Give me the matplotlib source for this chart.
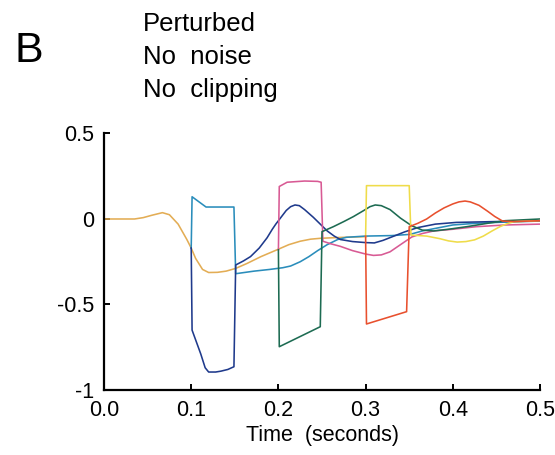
import numpy as np
from matplotlib import pyplot as plt

plt.rcParams['font.family'] = ['Liberation Sans', 'DejaVu Sans']

# traces (time in s, value)
orange_t = [0, 0.035, 0.045, 0.055, 0.067, 0.075, 0.085, 0.095, 0.1, 0.105, 0.113, 0.12, 0.13, 0.14, 0.151,
            0.164, 0.18, 0.198, 0.212, 0.225, 0.237, 0.248, 0.27, 0.301]
orange_y = [0, 0, 0.008, 0.022, 0.037, 0.025, -0.03, -0.12, -0.17, -0.23, -0.295, -0.313, -0.312, -0.305, -0.289,
            -0.26, -0.22, -0.181, -0.15, -0.13, -0.118, -0.113, -0.108, -0.103]

teal_t = [0.1, 0.101, 0.117, 0.149, 0.151, 0.172, 0.19, 0.205, 0.214, 0.225, 0.235, 0.245, 0.256, 0.268, 0.278,
          0.3, 0.33, 0.351, 0.365, 0.38, 0.4, 0.427, 0.46, 0.5]
teal_y = [-0.17, 0.13, 0.07, 0.07, -0.32, -0.305, -0.295, -0.285, -0.275, -0.25, -0.22, -0.185, -0.15, -0.12, -0.107,
          -0.1, -0.097, -0.09, -0.07, -0.055, -0.035, -0.025, -0.018, -0.012]

navy_t = [0.1, 0.101, 0.106, 0.111, 0.116, 0.12, 0.128, 0.134, 0.142, 0.149, 0.151, 0.16, 0.168, 0.178, 0.187,
          0.193, 0.197, 0.203, 0.209, 0.214, 0.219, 0.224, 0.23, 0.24, 0.25, 0.256, 0.264, 0.271, 0.285, 0.3,
          0.31, 0.32, 0.33, 0.345, 0.36, 0.38, 0.404, 0.45, 0.5]
navy_y = [-0.17, -0.65, -0.72, -0.79, -0.87, -0.895, -0.895, -0.89, -0.88, -0.864, -0.269, -0.245, -0.22, -0.17, -0.11,
          -0.06, -0.03, 0.01, 0.05, 0.072, 0.082, 0.078, 0.055, 0.01, -0.04, -0.07, -0.1, -0.12, -0.132, -0.138,
          -0.14, -0.125, -0.105, -0.075, -0.05, -0.03, -0.02, -0.015, -0.012]

pink_t = [0.2, 0.201, 0.21, 0.23, 0.245, 0.249, 0.251, 0.26, 0.271, 0.285, 0.3, 0.309, 0.318, 0.328, 0.34,
          0.353, 0.365, 0.378, 0.4, 0.427, 0.46, 0.5]
pink_y = [-0.18, 0.19, 0.215, 0.222, 0.22, 0.215, -0.13, -0.145, -0.16, -0.185, -0.205, -0.213, -0.21, -0.192, -0.15,
          -0.105, -0.085, -0.07, -0.06, -0.045, -0.035, -0.03]

green_t = [0.2, 0.201, 0.248, 0.25, 0.263, 0.275, 0.286, 0.298, 0.305, 0.311, 0.318, 0.328, 0.34, 0.353, 0.365,
           0.378, 0.395, 0.416, 0.44, 0.46, 0.5]
green_y = [-0.18, -0.747, -0.63, -0.074, -0.045, -0.015, 0.014, 0.05, 0.072, 0.082, 0.078, 0.055, 0.005, -0.04, -0.065,
           -0.07, -0.06, -0.045, -0.025, -0.01, 0.0]

yellow_t = [0.3, 0.301, 0.35, 0.352, 0.37, 0.385, 0.395, 0.405, 0.415, 0.425, 0.435, 0.445, 0.454, 0.462, 0.47, 0.5]
yellow_y = [-0.1, 0.195, 0.195, -0.094, -0.1, -0.115, -0.128, -0.135, -0.132, -0.122, -0.1, -0.07, -0.045, -0.028, -0.016, -0.01]

red_t = [0.3, 0.301, 0.347, 0.35, 0.36, 0.37, 0.38, 0.39, 0.4, 0.407, 0.414, 0.42, 0.43, 0.44, 0.448, 0.457, 0.47, 0.5]
red_y = [-0.1, -0.614, -0.542, -0.045, -0.025, 0.0, 0.035, 0.065, 0.088, 0.1, 0.105, 0.1, 0.08, 0.045, 0.015, -0.012, -0.015, -0.01]

xticks = [0.0, 0.1, 0.2, 0.3, 0.4, 0.5]
xlabels = ['0.0', '0.1', '0.2', '0.3', '0.4', '0.5']
yticks = [0.5, 0, -0.5, -1]
ylabels = ['0.5', '0', '-0.5', '-1']

fig = plt.figure(figsize=(5.55, 4.55), dpi=100)
ax = fig.add_axes([0.1874, 0.1429, 0.7856, 0.5637])

lw = 1.15
ax.plot(orange_t, orange_y, color='#e3ad55', lw=lw)
ax.plot(teal_t, teal_y, color='#2a8dbb', lw=lw)
ax.plot(navy_t, navy_y, color='#1f3a8c', lw=lw)
ax.plot(pink_t, pink_y, color='#d85a94', lw=lw)
ax.plot(green_t, green_y, color='#1d6b52', lw=lw)
ax.plot(yellow_t, yellow_y, color='#efdc4a', lw=lw)
ax.plot(red_t, red_y, color='#e8502e', lw=lw)

ax.set_xlim(0, 0.5)
ax.set_ylim(-1, 0.5)
for s in ['top', 'right']:
    ax.spines[s].set_visible(False)
for s in ['left', 'bottom']:
    ax.spines[s].set_linewidth(1.6)
ax.set_xticks(xticks)
ax.set_xticklabels(xlabels)
ax.set_yticks(yticks)
ax.set_yticklabels(ylabels)
ax.tick_params(direction='in', length=4, width=1.4, labelsize=15.5, pad=7)
ax.set_xlabel('Time  (seconds)', fontsize=15.5, labelpad=3)

fig.text(14 / 555, 1 - 62 / 455, 'B', fontsize=31, va='baseline')
fig.text(143 / 555, 1 - 31 / 455, 'Perturbed', fontsize=18.5, va='baseline')
fig.text(143 / 555, 1 - 64 / 455, 'No  noise', fontsize=18.5, va='baseline')
fig.text(143 / 555, 1 - 97 / 455, 'No  clipping', fontsize=18.5, va='baseline')

fig.savefig('out.png', dpi=100)
